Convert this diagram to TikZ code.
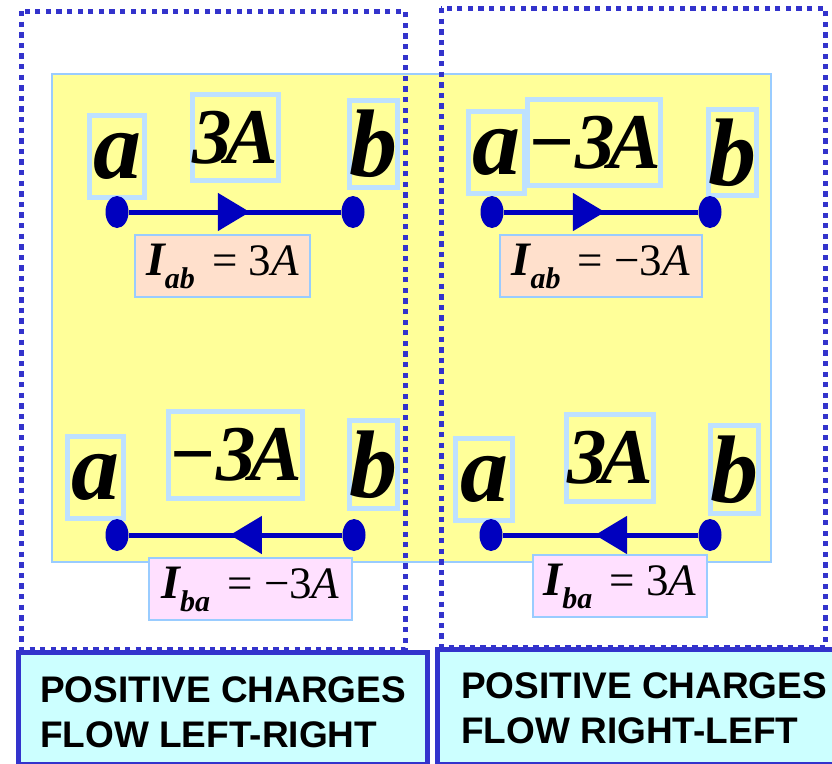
\documentclass[tikz,border=0pt]{standalone}
\usepackage{fontspec}
\setmainfont{Liberation Serif}
\newfontfamily\capfont{Liberation Sans}
\usetikzlibrary{arrows.meta,shapes.geometric,decorations.markings}
\definecolor{wireblue}{HTML}{0000BF}
\definecolor{fenceblue}{HTML}{3333CC}
\definecolor{paleblue}{HTML}{BEE1FF}
\definecolor{skyblue}{HTML}{99CCFF}
\definecolor{sun}{HTML}{FFFF99}
\definecolor{peach}{HTML}{FFE0CC}
\definecolor{rose}{HTML}{FFE0FF}
\definecolor{aqua}{HTML}{CCFFFF}
\tikzset{term/.style={draw=paleblue,line width=5pt,inner sep=0pt,font=\fontsize{96}{96}\selectfont\bfseries\itshape},val/.style={draw=paleblue,line width=5pt,inner sep=0pt,font=\fontsize{79}{79}\selectfont\bfseries\itshape},cur/.style={draw=skyblue,line width=2pt,inner sep=0pt,minimum height=62pt,font=\fontsize{45}{45}\selectfont},pin/.style={ellipse,fill=wireblue,inner sep=0pt,minimum width=23pt,minimum height=32pt},wire/.style={draw=wireblue,line width=5pt},flow/.style={postaction={decorate,decoration={markings,mark=at position #1 with {\arrow[wireblue]{Triangle[length=32pt,width=37pt]}}}}},fence/.style={draw=fenceblue,line width=5pt,dash pattern=on 5.3pt off 5.3pt},tag/.style={draw=fenceblue,line width=5pt,fill=aqua},caption/.style={font=\fontsize{37}{45}\selectfont\capfont\bfseries,align=left,inner sep=0pt,anchor=base west}}
\newcommand{\cursub}[1]{\raisebox{-13pt}{\fontsize{30}{30}\selectfont\bfseries\itshape #1}}
\newcommand{\curlbl}[2]{{\fontsize{48}{48}\selectfont\bfseries\itshape I}\cursub{#1}\kern6pt{} = #2\textit{A}}
\newcommand{\amp}[1]{#1\kern-0.08em A}

\begin{document}
\begin{tikzpicture}[x=1pt,y=-1pt]
\clip (0,0) rectangle (832,763);
\draw[draw=skyblue,line width=1.5pt,fill=sun] (52,74) rectangle (771,562);
\draw[fence] (21,11) rectangle (405,649);
\draw[fence] (441,8) rectangle (825,647);
% left: charges go a to b
\node[term,minimum width=55pt,minimum height=82pt] (aTL) at (117,156.5) {a};
\node[val,minimum width=86pt,minimum height=86pt] (vTL) at (235.5,137.5) {\amp{3}};
\node[term,minimum width=43pt,minimum height=87pt] (bTL) at (373,144) {b};
\node[pin] (pTLa) at (117,212) {};
\node[pin] (pTLb) at (353,212) {};
\draw[wire,flow=0.57] (pTLa) -- (pTLb);
\node[cur,fill=peach,minimum width=175pt] (iTL) at (222.5,266) {\curlbl{ab}{3}};
\node[term,minimum width=56pt,minimum height=82pt] (aBL) at (95.5,477.5) {a};
\node[val,minimum width=130pt,minimum height=87pt] (vBL) at (235.5,455) {\amp{−3}};
\node[term,minimum width=43pt,minimum height=88pt] (bBL) at (373,464.5) {b};
\node[pin] (pBLa) at (117,535) {};
\node[pin] (pBLb) at (354,535) {};
\draw[wire,flow=0.526] (pBLb) -- (pBLa);
\node[cur,fill=rose,minimum width=203pt] (iBL) at (250.5,589) {\curlbl{ba}{−3}};
% right: charges go b to a
\node[term,minimum width=56pt,minimum height=82pt] (aTR) at (496.5,152.5) {a};
\node[val,minimum width=129pt,minimum height=86pt] (vTR) at (594,142.5) {\amp{−3}};
\node[term,minimum width=43pt,minimum height=86pt] (bTR) at (732,152.5) {b};
\node[pin] (pTRa) at (492,212) {};
\node[pin] (pTRb) at (710,212) {};
\draw[wire,flow=0.52] (pTRa) -- (pTRb);
\node[cur,fill=peach,minimum width=202pt] (iTR) at (601,266) {\curlbl{ab}{−3}};
\node[term,minimum width=57pt,minimum height=82pt] (aBR) at (484,479.5) {a};
\node[val,minimum width=87pt,minimum height=87pt] (vBR) at (610,458) {\amp{3}};
\node[term,minimum width=43pt,minimum height=88pt] (bBR) at (734,469.5) {b};
\node[pin] (pBRa) at (491,535) {};
\node[pin] (pBRb) at (710,535) {};
\draw[wire,flow=0.528] (pBRb) -- (pBRa);
\node[cur,fill=rose,minimum width=174pt] (iBR) at (620,586) {\curlbl{ba}{3}};
% captions
\draw[tag] (18,652.5) rectangle (427,764);
\draw[tag] (437.5,649.5) rectangle (845,764);
\node[caption] (capL) at (40,747) {POSITIVE CHARGES\\FLOW LEFT-RIGHT};
\node[caption] (capR) at (461,743) {POSITIVE CHARGES\\FLOW RIGHT-LEFT};
\end{tikzpicture}
\end{document}
